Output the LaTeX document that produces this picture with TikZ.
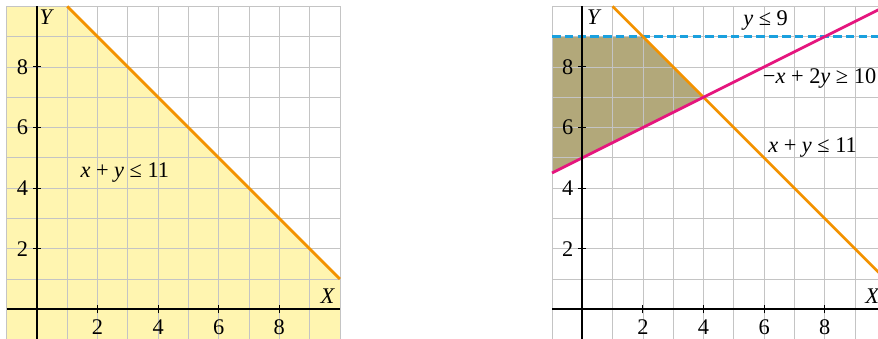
\documentclass[tikz,border=0pt]{standalone}
\usepackage{fontspec}
\setmainfont{Liberation Serif}
\usetikzlibrary{positioning}
\definecolor{naranja}{HTML}{F39200}
\definecolor{rosa}{HTML}{E5157E}
\definecolor{azul}{HTML}{1AA0DE}
\definecolor{amarillo}{HTML}{FFF5B0}
\definecolor{oliva}{HTML}{B2A87A}
\definecolor{rejilla}{HTML}{C4C4C4}
\newcommand{\vx}{\textit{x}}
\newcommand{\vy}{\textit{y}}

\begin{document}
\begin{tikzpicture}[
      rej/.style={rejilla,line width=0.7pt},
      eje/.style={black,line width=1.8pt},
      recta/.style={line width=2.6pt},
      marca/.style={black,line width=1pt},
      etq/.style={font=\fontsize{21}{23}\selectfont,inner sep=1pt}]
    \clip (-1.22,-0.95) rectangle (27.76,10.21);
    % primera grafica
    \fill[amarillo] (-1,-1) -- (-1,10) -- (1,10) -- (10,1) -- (10,-1) -- cycle;
    \draw[rej] (-1,-1) grid (10,10);
    \draw[recta,naranja] (1,10) -- (10,1);
    \draw[eje] (-1,0) -- (10,0);
    \draw[eje] (0,-1) -- (0,10);
    \foreach \i in {2,4,6,8} {
      \draw[marca] (\i,-0.13) -- (\i,0.13);
      \draw[marca] (-0.13,\i) -- (0.13,\i);
      \node[etq] (ax\i) at (\i,-0.6) {\i};
      \node[etq] (ay\i) at (-0.48,\i) {\i};
    }
    \node[etq] (ejeY) at (0.33,9.64) {\textit{Y}};
    \node[etq] (ejeX) at (9.6,0.43) {\textit{X}};
    \node[etq] (ineq) at (2.9,4.52) {\vx\ + \vy\ ≤ 11};
    % segunda grafica
    \begin{scope}[xshift=18cm]
      \fill[oliva] (-1,4.5) -- (-1,9) -- (2,9) -- (4,7) -- cycle;
      \draw[rej] (-1,-1) grid (10,10);
      \draw[recta,azul,dash pattern=on 8pt off 4pt] (-1,9) -- (10,9);
      \draw[recta,naranja] (1,10) -- (10,1);
      \draw[recta,rosa] (-1,4.5) -- (10,10);
      \draw[eje] (-1,0) -- (10,0);
      \draw[eje] (0,-1) -- (0,10);
      \foreach \i in {2,4,6,8} {
        \draw[marca] (\i,-0.13) -- (\i,0.13);
        \draw[marca] (-0.13,\i) -- (0.13,\i);
        \node[etq] (bx\i) at (\i,-0.6) {\i};
        \node[etq] (by\i) at (-0.48,\i) {\i};
      }
      \node[etq] (ejeYb) at (0.4,9.64) {\textit{Y}};
      \node[etq] (ejeXb) at (9.58,0.43) {\textit{X}};
      \node[etq] (techo) at (6.05,9.54) {\vy\ ≤ 9};
      \node[etq,anchor=west] (rosaineq) at (5.92,7.62) {−\vx\ + 2\vy\ ≥ 10};
      \node[etq] (naranjaineq) at (7.6,5.35) {\vx\ + \vy\ ≤ 11};
    \end{scope}
  \end{tikzpicture}
\end{document}
